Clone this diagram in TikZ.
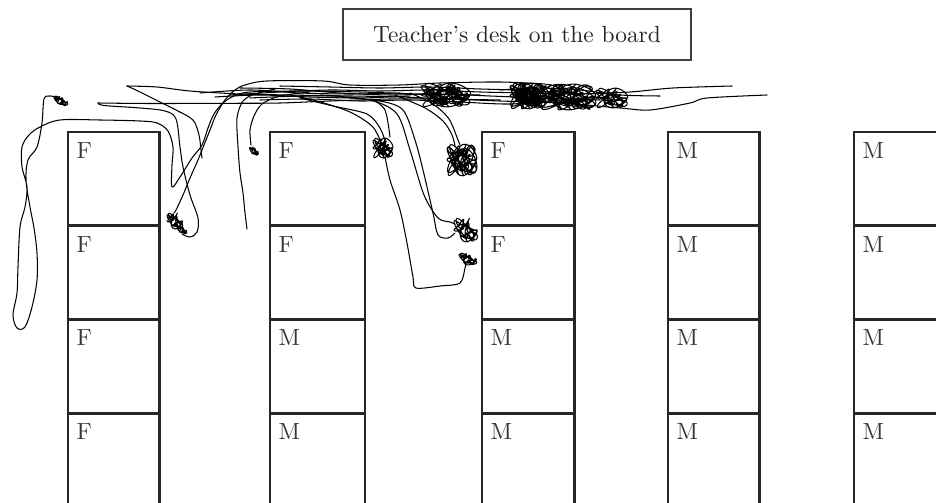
\documentclass[tikz,border=0pt]{standalone}
\usepackage{fontspec}
\setmainfont{lmroman10-regular}[Extension=.otf]
\newcommand\myscrib[6]{\draw[trail] plot[smooth, variable=\t, domain=0:#5, samples=#6]
  ({#1+#3*(0.62*cos(\t)+0.38*cos(2.7*\t+40))}, {#2+#4*(0.62*sin(1.15*\t)+0.38*sin(3.3*\t+10))});}
\begin{document}
\begin{tikzpicture}[x=1bp,y=-1bp,
  desk/.style={draw=black!85, line width=2.6bp},
  lab/.style={anchor=base west, inner sep=0pt, text=black!78, font=\fontsize{23.5}{28}\selectfont},
  board/.style={draw=black!75, line width=1.2bp, minimum width=348bp, minimum height=51bp,
    inner sep=0pt, text=black!85, font=\fontsize{23.5}{28}\selectfont},
  trail/.style={black, line width=1.05bp, line join=round, line cap=round}]
\useasboundingbox (0,0) rectangle (936,503);
\clip (0,0) rectangle (936,503);

% teacher's desk
\node[board] (board) at (517,34.6) {Teacher’s desk on the board};

% desks
\foreach \L/\R/\A/\B/\C/\D [count=\c] in
  {68/159.5/F/F/F/F, 270/365/F/F/M/M, 482/574.5/F/F/M/M, 668/759.5/M/M/M/M, 854/950/M/M/M/M}{
  \foreach \T/\S [count=\r] in {132/\A, 226/\B, 319.7/\C, 413.3/\D}{
    \draw[desk] (\L,\T) rectangle (\R,\T+93.7);
    \node[lab] (lab\c\r) at (\L+8.5,\T+26.3) {\S};
  }
}

% ---------- movement trail ----------
% left long loop
\draw[trail] plot[smooth, tension=0.55] coordinates {(56,97) (50,96) (44,99) (42,123) (37,147) (28,160) (26,180)
 (30,207) (34,228) (37,253) (37,280) (32,307) (25,327) (17,328) (13,315) (17,293) (18,267) (20,227) (25,207)
 (27,187) (22,167) (22,147) (29,135) (40,127) (60,120) (100,120) (140,121) (157,123) (168,131) (173,147)
 (172,165) (172,187) (180,177) (192,158) (202,145) (208,128) (214,114) (223,103) (234,96) (250,92) (300,91)
 (360,92) (420,94) (480,95)};
\myscrib{61}{101}{7}{5}{900}{120}

% "<" shaped strand: top part
\draw[trail] plot[smooth, tension=0.5] coordinates {(98,103) (150,103.5) (230,103.3) (280,103) (330,101) (390,99) (440,99) (500,100)};
% "<" bottom part to the loop and back up
\draw[trail] plot[smooth, tension=0.55] coordinates {(98,103) (104,105.5) (140,108) (165,111) (176,119) (180,147)
 (183,167) (190,195) (198,218) (197,232) (190,237) (182,234)};
\myscrib{175}{221}{8}{8}{1260}{160}
\myscrib{182}{230}{5}{4}{720}{90}
\draw[trail] plot[smooth, tension=0.55] coordinates {(174,213) (176,210) (183,195) (190,178) (198,160) (204,145)
 (210,130) (216,115) (225,100) (235,90) (245,85) (267,81) (323,81) (350,85) (400,85) (440,83) (500,82) (545,84)};

% strand from pointed end at (127,86)
\draw[trail] plot[smooth, tension=0.5] coordinates {(127,86) (157,87) (190,91) (240,94) (290,95) (340,96)};
\draw[trail] plot[smooth, tension=0.5] coordinates {(127,86) (140,92) (160,102) (176,110) (193,120) (199,135) (201,150) (202,158)};

% line down to (247,228)
\draw[trail] plot[smooth, tension=0.5] coordinates {(275,89) (255,94) (243,101) (237,118) (238,147) (240,173) (243,193) (245,213) (247,229)};
% line to tiny loop (253,151)
\draw[trail] plot[smooth, tension=0.5] coordinates {(310,92) (280,96) (262,104) (254,116) (250,130) (251,145)};
\myscrib{254}{151}{4.5}{4.5}{720}{90}

% band lines
\draw[trail] plot[smooth, tension=0.5] coordinates {(230,95) (280,92) (330,90) (380,91) (430,90) (480,92) (530,93) (580,94) (630,92) (673,88) (732,86)};
\draw[trail] plot[smooth, tension=0.5] coordinates {(250,98) (300,96) (350,96) (400,97) (450,99) (500,101) (560,103) (620,108) (650,110) (690,103) (707,98) (767,95)};
\draw[trail] plot[smooth, tension=0.5] coordinates {(240,88) (290,89) (340,93) (390,95) (440,94) (490,96) (540,98) (600,100)};
\draw[trail] plot[smooth, tension=0.5] coordinates {(260,100) (310,99) (360,101) (410,100) (460,102) (510,104) (560,100) (610,97)};
\draw[trail] plot[smooth, tension=0.5] coordinates {(280,86) (330,87) (380,88) (430,87) (480,89) (520,90)};
\draw[trail] plot[smooth, tension=0.5] coordinates {(500,90) (540,88) (580,90) (620,95) (660,96)};
\draw[trail] plot[smooth, tension=0.5] coordinates {(200,93) (250,90) (300,93) (350,94) (400,93)};
\draw[trail] plot[smooth, tension=0.5] coordinates {(215,97) (260,95) (310,97) (360,98) (410,96)};

% band clumps
\myscrib{446}{95}{25}{12}{1800}{240}
\myscrib{436}{97}{12}{9}{1080}{140}
\myscrib{457}{93}{11}{9}{1080}{140}
\myscrib{528}{96}{18}{13}{3600}{460}
\myscrib{530}{97}{11}{9}{2520}{320}
\myscrib{568}{97}{28}{13}{3600}{460}
\myscrib{612}{98}{16}{10}{1800}{230}

% strands into loop at (383,148) and the long U
\draw[trail] plot[smooth, tension=0.5] coordinates {(290,95) (317,101) (350,112) (372,126) (380,140)};
\draw[trail] plot[smooth, tension=0.5] coordinates {(300,98) (333,106) (367,114) (380,128) (385,141)};
\draw[trail] plot[smooth, tension=0.5] coordinates {(372,99) (385,110) (390,137)};
\myscrib{383}{148}{10}{10}{1800}{230}
\draw[trail] plot[smooth, tension=0.5] coordinates {(385,157) (390,180) (400,210) (407,243) (413,277) (416,288) (440,286) (460,283) (465,268) (466,263)};
\myscrib{468}{259}{9}{6}{1080}{140}

% strands into loop at (466,230)
\draw[trail] plot[smooth, tension=0.5] coordinates {(340,97) (380,101) (403,110) (415,140) (423,170) (433,213) (438,235) (448,238) (455,233)};
\draw[trail] plot[smooth, tension=0.5] coordinates {(320,95) (370,100) (397,114) (410,150) (424,195) (438,218) (450,222) (455,224)};
\myscrib{466}{230}{12}{12}{1440}{180}

% strands into big loop at (462,160)
\draw[trail] plot[smooth, tension=0.5] coordinates {(395,95) (425,108) (443,121) (452,135) (455,146)};
\draw[trail] plot[smooth, tension=0.5] coordinates {(410,93) (433,104) (449,119) (458,140) (460,145)};
\myscrib{462}{160}{15}{16}{2880}{360}
\end{tikzpicture}
\end{document}
